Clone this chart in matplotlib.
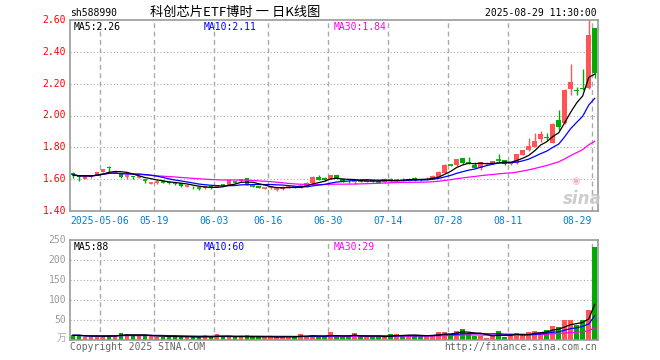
import numpy as np
import pandas as pd
import matplotlib
matplotlib.use('Agg')
from matplotlib import pyplot as plt

# ---------------- data ----------------
opens = [1.640, 1.620, 1.604, 1.615, 1.627, 1.646, 1.674, 1.645, 1.631, 1.618,
         1.618, 1.612, 1.595, 1.575, 1.578, 1.588, 1.582, 1.578, 1.573, 1.556,
         1.552, 1.547, 1.548, 1.558, 1.558, 1.566, 1.566, 1.586, 1.586, 1.606,
         1.562, 1.558, 1.543, 1.546, 1.533, 1.537, 1.552, 1.552, 1.552, 1.552,
         1.575, 1.615, 1.610, 1.600, 1.625, 1.604, 1.590, 1.584, 1.592, 1.585,
         1.590, 1.588, 1.583, 1.602, 1.592, 1.602, 1.590, 1.606, 1.602, 1.598,
         1.602, 1.615, 1.640, 1.688, 1.686, 1.730, 1.702, 1.692, 1.670, 1.698,
         1.698, 1.720, 1.720, 1.698, 1.700, 1.752, 1.783, 1.804, 1.850, 1.862,
         1.830, 1.972, 1.950, 2.167, 2.158, 2.170, 2.170, 2.548]
closes = [1.627, 1.615, 1.621, 1.618, 1.642, 1.663, 1.670, 1.648, 1.612, 1.620,
          1.612, 1.614, 1.592, 1.578, 1.580, 1.585, 1.578, 1.575, 1.555, 1.558,
          1.548, 1.544, 1.550, 1.542, 1.560, 1.564, 1.594, 1.584, 1.600, 1.566,
          1.559, 1.545, 1.546, 1.548, 1.536, 1.552, 1.555, 1.549, 1.555, 1.579,
          1.615, 1.594, 1.594, 1.625, 1.604, 1.585, 1.586, 1.588, 1.590, 1.592,
          1.588, 1.585, 1.600, 1.590, 1.594, 1.598, 1.604, 1.602, 1.594, 1.602,
          1.623, 1.644, 1.692, 1.686, 1.724, 1.700, 1.700, 1.672, 1.707, 1.703,
          1.713, 1.718, 1.695, 1.702, 1.758, 1.783, 1.808, 1.842, 1.884, 1.858,
          1.947, 1.926, 2.160, 2.213, 2.152, 2.165, 2.506, 2.265]
highs = [1.645, 1.625, 1.625, 1.625, 1.645, 1.665, 1.684, 1.652, 1.635, 1.630,
         1.622, 1.620, 1.604, 1.585, 1.590, 1.592, 1.586, 1.582, 1.575, 1.562,
         1.556, 1.552, 1.556, 1.560, 1.565, 1.570, 1.596, 1.590, 1.602, 1.608,
         1.565, 1.560, 1.552, 1.555, 1.540, 1.554, 1.560, 1.556, 1.562, 1.581,
         1.617, 1.627, 1.613, 1.627, 1.628, 1.606, 1.596, 1.600, 1.598, 1.596,
         1.594, 1.592, 1.608, 1.605, 1.598, 1.610, 1.606, 1.615, 1.604, 1.616,
         1.625, 1.652, 1.698, 1.696, 1.728, 1.732, 1.740, 1.710, 1.710, 1.708,
         1.716, 1.760, 1.722, 1.708, 1.760, 1.785, 1.857, 1.888, 1.905, 1.890,
         1.955, 2.035, 2.165, 2.324, 2.180, 2.290, 2.600, 2.550]
lows = [1.610, 1.590, 1.600, 1.610, 1.625, 1.645, 1.648, 1.638, 1.608, 1.600,
        1.598, 1.605, 1.578, 1.568, 1.570, 1.578, 1.570, 1.566, 1.550, 1.550,
        1.540, 1.535, 1.538, 1.538, 1.552, 1.558, 1.564, 1.578, 1.584, 1.562,
        1.550, 1.542, 1.536, 1.538, 1.528, 1.535, 1.545, 1.542, 1.545, 1.550,
        1.573, 1.592, 1.590, 1.598, 1.600, 1.580, 1.575, 1.570, 1.582, 1.582,
        1.582, 1.575, 1.575, 1.588, 1.588, 1.590, 1.588, 1.590, 1.590, 1.592,
        1.600, 1.612, 1.638, 1.684, 1.684, 1.698, 1.694, 1.670, 1.660, 1.695,
        1.696, 1.705, 1.692, 1.690, 1.695, 1.750, 1.780, 1.800, 1.835, 1.845,
        1.828, 1.910, 1.945, 2.130, 2.130, 2.160, 2.165, 2.235]
volumes = [11.7, 11.7, 8.3, 8.3, 10, 10, 11.7, 10, 17.5, 15,
           10, 11.7, 10, 10, 8.3, 8.3, 8.3, 8.3, 8.3, 8.3,
           6.7, 6.7, 11.7, 6.7, 15, 6.7, 8.3, 6.7, 8.3, 11.7,
           6.7, 6.7, 8.3, 8.3, 8.3, 8.3, 8.3, 6.7, 15, 10,
           12.5, 6.7, 6.7, 20, 8.3, 8.3, 8.3, 16.7, 8.3, 8.3,
           8.3, 8.3, 8.3, 15, 15, 10, 12.5, 10, 10, 11.7,
           11.7, 20, 20, 12.5, 22.5, 27.5, 15, 10, 10, 5,
           11.7, 22.5, 8.3, 11.7, 16.7, 11.7, 20, 23.3, 20, 25,
           35, 32.5, 50, 50, 37.5, 50, 75, 232.5]

tick_pos = [5, 14, 24, 33, 43, 53, 63, 73, 87]
tick_labels = ['2025-05-06', '05-19', '06-03', '06-16', '06-30',
               '07-14', '07-28', '08-11', '08-29']
price_ticks = [1.40, 1.60, 1.80, 2.00, 2.20, 2.40, 2.60]
vol_ticks = [50, 100, 150, 200, 250]

RED = '#ff5555'
GREEN = '#00aa00'
GRID = '#aaaaaa'
FRAME = '#999999'
MONO = 'DejaVu Sans Mono'
CJK = ['Noto Sans CJK SC', 'DejaVu Sans']

W, H = 660, 360
n = len(closes)
x = np.arange(n)
o = np.array(opens); c = np.array(closes)
hi = np.array(highs); lo = np.array(lows)
v = np.array(volumes)
up = c >= o
cols = [RED if u else GREEN for u in up]

cs = pd.Series(c)
vs = pd.Series(v)
ma = {k: cs.rolling(k, min_periods=1).mean() for k in (5, 10, 30)}
vma = {k: vs.rolling(k, min_periods=1).mean() for k in (5, 10, 30)}
ma_cols = {5: 'black', 10: '#0000ff', 30: '#ff00ff'}

fig = plt.figure(figsize=(W / 100, H / 100), dpi=100)
fig.patch.set_facecolor('white')


def px(xp, yp):
    return xp / W, 1 - yp / H


ax1 = fig.add_axes([70 / W, 1 - 211 / H, 527.7 / W, 191 / H])
ax2 = fig.add_axes([70 / W, 1 - 340 / H, 527.7 / W, 100 / H])

for ax in (ax1, ax2):
    ax.set_xlim(-0.5, n - 0.5)
    ax.set_xticks([])
    ax.set_yticks([])
    for s in ax.spines.values():
        s.set_color(FRAME)
        s.set_linewidth(1.2)
    for t in tick_pos:
        ax.axvline(t - 0.5, color=GRID, lw=1, ls=(0, (3.5, 2.5)), zorder=0)

# price panel
ax1.set_ylim(1.40, 2.60)
for p in price_ticks[1:-1]:
    ax1.axhline(p, color=GRID, lw=0.8, ls=(0, (1, 2)), zorder=0)

for i in range(n):
    ax1.vlines(x[i], lo[i], hi[i], color=cols[i], lw=1.0, zorder=2)
    b = min(o[i], c[i])
    h = abs(c[i] - o[i])
    if h < 0.004:
        ax1.hlines(c[i], x[i] - 0.4, x[i] + 0.4, color=cols[i], lw=1.2, zorder=2)
    else:
        ax1.bar(x[i], h, bottom=b, width=0.8, color=cols[i], lw=0, zorder=2)

for k in (30, 10, 5):
    ax1.plot(x, ma[k], color=ma_cols[k], lw=0.9, zorder=3)

# volume panel
ax2.set_ylim(0, 250)
for t in vol_ticks[:-1]:
    ax2.axhline(t, color=GRID, lw=0.8, ls=(0, (1, 2)), zorder=0)
ax2.bar(x, v, width=0.8, color=cols, lw=0, zorder=2)
for k in (30, 10, 5):
    ax2.plot(x, vma[k], color=ma_cols[k], lw=0.9, zorder=3)

# y labels
for p in price_ticks:
    yp = 211 - (p - 1.40) / 1.2 * 191
    fig.text(*px(66, yp), '%.2f' % p, color='red', fontsize=7, family=MONO,
             ha='right', va='center')
for t in vol_ticks:
    yp = 340 - t / 250 * 100
    fig.text(*px(66, yp), str(t), color='#999999', fontsize=7, family=MONO,
             ha='right', va='center')
fig.text(*px(66, 338), '万', color='#aaaaaa', fontsize=7, family=CJK,
         ha='right', va='center')

# date labels
for t, lab in zip(tick_pos, tick_labels):
    xp = 70 + 6 * t
    ha = 'center'
    if t == n - 1:
        ha = 'right'
    fig.text(*px(xp, 221.5), lab, color='#0080d0', fontsize=7, family=MONO,
             ha=ha, va='center')

# header
fig.text(*px(70, 12.5), 'sh588990', color='black', fontsize=7, family=MONO,
         ha='left', va='center')
fig.text(*px(150, 12), '科创芯片ETF博时 一 日K线图', color='black', fontsize=9.5,
         family=CJK, ha='left', va='center')
fig.text(*px(597, 12.5), '2025-08-29 11:30:00', color='black', fontsize=7,
         family=MONO, ha='right', va='center')

# MA legends
fig.text(*px(74, 26.5), 'MA5:2.26', color='black', fontsize=7, family=MONO, va='center')
fig.text(*px(204, 26.5), 'MA10:2.11', color='#0000ff', fontsize=7, family=MONO, va='center')
fig.text(*px(334, 26.5), 'MA30:1.84', color='#ff00ff', fontsize=7, family=MONO, va='center')
fig.text(*px(74, 246.5), 'MA5:88', color='black', fontsize=7, family=MONO, va='center')
fig.text(*px(204, 246.5), 'MA10:60', color='#0000ff', fontsize=7, family=MONO, va='center')
fig.text(*px(334, 246.5), 'MA30:29', color='#ff00ff', fontsize=7, family=MONO, va='center')

# watermark
fig.text(*px(582, 199), 'sina', color='#c8c8c8', fontsize=12, style='italic',
         weight='bold', ha='center', va='center', alpha=0.9)
fig.text(*px(576, 181), '◉', color='#f4b8b8', fontsize=7, ha='center', va='center')

# footer
fig.text(*px(70, 346.5), 'Copyright 2025 SINA.COM', color='#666666', fontsize=7,
         family=MONO, ha='left', va='center')
fig.text(*px(597, 346.5), 'http://finance.sina.com.cn', color='#666666', fontsize=7,
         family=MONO, ha='right', va='center')

plt.savefig('out.png', dpi=100)
plt.close()
